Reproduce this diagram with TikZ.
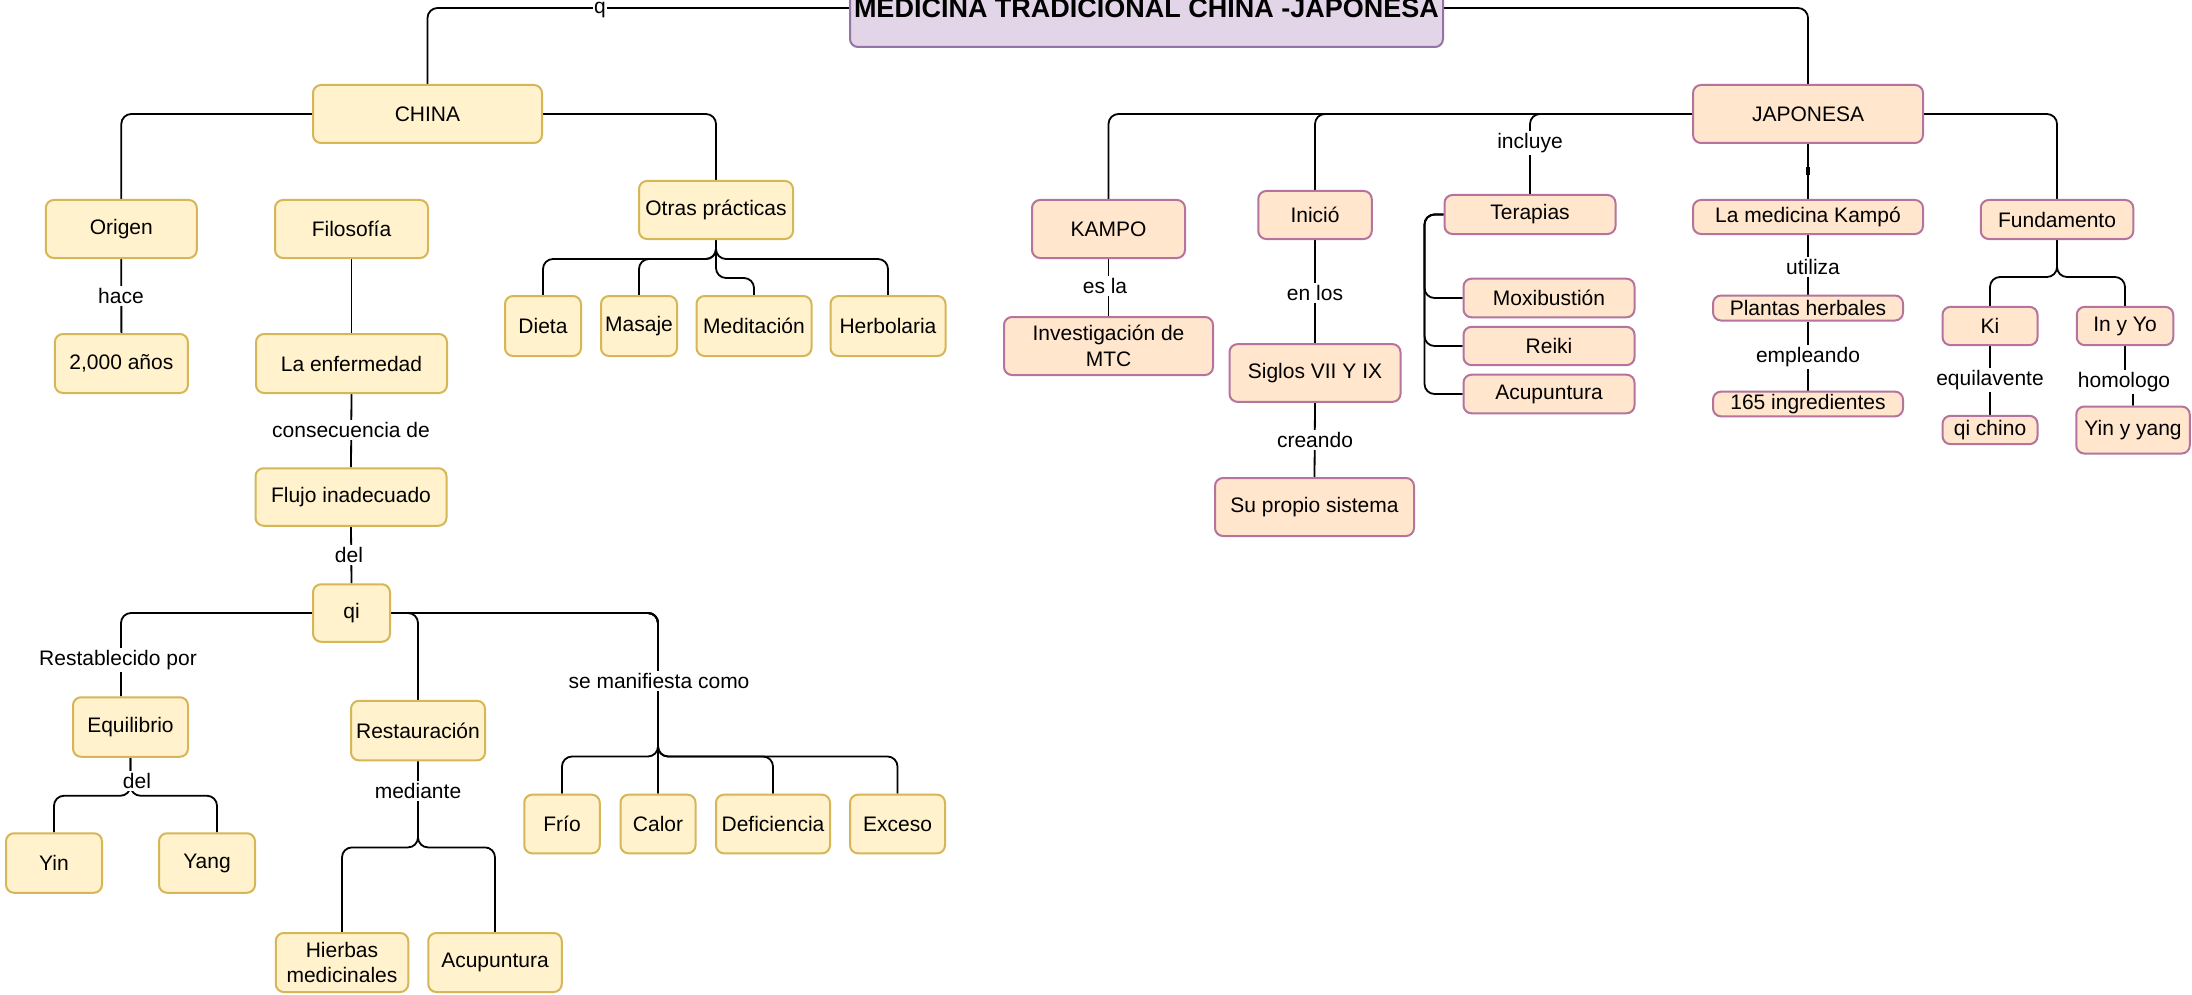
\documentclass[tikz,border=0pt]{standalone}
\usepackage{fontspec}
\setmainfont{Liberation Sans}
\definecolor{cfill}{HTML}{FFF2CC}
\definecolor{cdraw}{HTML}{D6B656}
\definecolor{jfill}{HTML}{FFE6CC}
\definecolor{jdraw}{HTML}{B5739D}
\definecolor{tfill}{HTML}{E1D5E7}
\definecolor{tdraw}{HTML}{9673A6}
\pgfdeclarelayer{back}
\pgfdeclarelayer{bg}
\pgfsetlayers{back,bg,main}
\tikzset{
  base/.style={rounded corners=8pt, line width=2pt, inner sep=0pt, align=center,
    font=\fontsize{21}{25.5}\selectfont, text=black},
  cbox/.style={base, fill=cfill, draw=cdraw},
  jbox/.style={base, fill=jfill, draw=jdraw},
  tbox/.style={base, fill=tfill, draw=tdraw, font=\bfseries\fontsize{27}{32}\selectfont},
  lbl/.style={fill=white, inner sep=2pt, font=\fontsize{21}{25}\selectfont, text=black},
  edge/.style={draw=black, line width=1.8pt, rounded corners=10pt},
  sz/.style 2 args={minimum width=#1pt, minimum height=#2pt},
}
\begin{document}
\begin{tikzpicture}[x=1pt,y=-1pt]
\useasboundingbox (0,0) rectangle (2192,995);
\begin{pgfonlayer}{back}
\fill[white] (0,0) rectangle (2192,995);
\end{pgfonlayer}

% title
\node[tbox, sz={593}{78}] (tit) at (1146.5,8) {MEDICINA TRADICIONAL CHINA -JAPONESA};

% China side
\node[cbox, sz={229}{58}] (china) at (427.5,114) {CHINA};
\node[cbox, sz={151}{58}] (origen) at (121.3,229) {Origen};
\node[cbox, sz={133}{59}] (anos) at (121.4,363.5) {2,000 años};
\node[cbox, sz={153}{58}] (filo) at (351.5,229) {Filosofía};
\node[cbox, sz={191}{59}] (enf) at (351.5,363.5) {La enfermedad};
\node[cbox, sz={154}{58}] (otras) at (716,210) {Otras prácticas};
\node[cbox, sz={76}{60}] (dieta) at (543,326) {Dieta};
\node[cbox, sz={76}{60}] (masaje) at (639,326) {Masaje};
\node[cbox, sz={115}{60}] (medit) at (754,326) {Meditación};
\node[cbox, sz={115}{60}] (herbo) at (888,326) {Herbolaria};
\node[cbox, sz={191}{57.5}] (flujo) at (351,497) {Flujo inadecuado};
\node[cbox, sz={77}{57.5}] (qi) at (351.5,613) {qi};
\node[cbox, sz={115}{59.5}] (equil) at (130.5,727) {Equilibrio};
\node[cbox, sz={96}{59.5}] (yin) at (54,863) {Yin};
\node[cbox, sz={96}{59.5}] (yang) at (207,863) {Yang};
\node[cbox, sz={134}{59.6}] (rest) at (418,730.6) {Restauración};
\node[cbox, sz={132.5}{59}] (hierbas) at (342,962.5) {Hierbas\\medicinales};
\node[cbox, sz={133.5}{59}] (acuc) at (495,962.5) {Acupuntura};
\node[cbox, sz={75.5}{58.7}] (frio) at (562,824) {Frío};
\node[cbox, sz={75}{58.7}] (calor) at (658,824) {Calor};
\node[cbox, sz={114}{58.7}] (defic) at (773,824) {Deficiencia};
\node[cbox, sz={95}{58.7}] (exceso) at (897.5,824) {Exceso};

% Japan side
\node[jbox, sz={230}{58}] (japonesa) at (1808,114) {JAPONESA};
\node[jbox, sz={153}{58}] (kampo) at (1108.5,229) {KAMPO};
\node[jbox, sz={209}{58}] (invest) at (1108.5,346) {Investigación de\\MTC};
\node[jbox, sz={113.5}{48}] (inicio) at (1315,215) {Inició};
\node[jbox, sz={171}{57.7}] (siglos) at (1315,373) {Siglos VII Y IX};
\node[jbox, sz={199}{58}] (propio) at (1314.5,507) {Su propio sistema};
\node[jbox, sz={171}{39}] (terapias) at (1530,214.5) {Terapias};
\node[jbox, sz={171}{38.6}] (moxi) at (1549,298) {Moxibustión};
\node[jbox, sz={171}{38.3}] (reiki) at (1549,346) {Reiki};
\node[jbox, sz={171}{38.6}] (acuj) at (1549,394) {Acupuntura};
\node[jbox, sz={230}{34}] (lamed) at (1808,217) {La medicina Kampó};
\node[jbox, sz={190}{25}] (plantas) at (1808,308) {Plantas herbales};
\node[jbox, sz={190}{24.7}] (ingred) at (1808,404) {165 ingredientes};
\node[jbox, sz={152.5}{39}] (fund) at (2057,219.5) {Fundamento};
\node[jbox, sz={95}{38.3}] (ki) at (1990,326) {Ki};
\node[jbox, sz={96.5}{38.3}] (inyo) at (2125,326) {In y Yo};
\node[jbox, sz={95}{28.3}] (qichino) at (1990,430) {qi chino};
\node[jbox, sz={113.5}{47}] (yinyang) at (2133,430) {Yin y yang};

\coordinate (mj) at (658,756.5);

\begin{pgfonlayer}{bg}
\draw[edge] (tit.west) -| (china.north);
\draw[edge] (tit.east) -| (japonesa.north);
\draw[edge] (china.west) -| (origen.north);
\draw[edge] (origen.south) -- (anos.north);
\draw[edge] (filo.south) -- (enf.north);
\draw[edge] (china.east) -| (otras.north);
\draw[edge] (otras.south) -- ++(0,19) -| (dieta.north);
\draw[edge] (otras.south) -- ++(0,19) -| (masaje.north);
\draw[edge] (otras.south) -- ++(0,38) -| (medit.north);
\draw[edge] (otras.south) -- ++(0,19) -| (herbo.north);
\draw[edge] (enf.south) -- (flujo.north);
\draw[edge] (flujo.south) -- (qi.north);
\draw[edge] (qi.west) -| ([xshift=-9.5pt]equil.north);
\draw[edge] (equil.south) -- ++(0,38) -| (yin.north);
\draw[edge] (equil.south) -- ++(0,38) -| ([xshift=10pt]yang.north);
\draw[edge] (qi.east) -| (rest.north);
\draw[edge] (rest.south) -- ++(0,86) -| (hierbas.north);
\draw[edge] (rest.south) -- ++(0,86) -| (acuc.north);
\draw[edge] (qi.east) -| (mj) -| (frio.north);
\draw[edge] (qi.east) -| (calor.north);
\draw[edge] (qi.east) -| (mj) -| (defic.north);
\draw[edge] (qi.east) -| (mj) -| (exceso.north);

\draw[edge] (japonesa.west) -| (kampo.north);
\draw[edge] (japonesa.west) -| (inicio.north);
\draw[edge] (japonesa.west) -| (terapias.north);
\draw[edge] (kampo.south) -- (invest.north);
\draw[edge] (inicio.south) -- (siglos.north);
\draw[edge] (siglos.south) -- (propio.north);
\draw[edge] (terapias.west) -- ++(-19,0) |- (moxi.west);
\draw[edge] (terapias.west) -- ++(-19,0) |- (reiki.west);
\draw[edge] (terapias.west) -- ++(-19,0) |- (acuj.west);
\draw[edge] (japonesa.south) -- (lamed.north);
\draw[line width=3.2pt] (japonesa.south) ++(0,23) -- ++(0,8);
\draw[edge] (lamed.south) -- (plantas.north);
\draw[edge] (plantas.south) -- (ingred.north);
\draw[edge] (japonesa.east) -| (fund.north);
\draw[edge] (fund.south) -- ++(0,37) -| (ki.north);
\draw[edge] (fund.south) -- ++(0,37) -| (inyo.north);
\draw[edge] (ki.south) -- (qichino.north);
\draw[edge] (inyo.south) -- ++(0,37) -| (yinyang.north);
\end{pgfonlayer}

% labels
\node[lbl, inner sep=1.5pt] (lq) at (600,10) {q};
\node[lbl] (lhace) at (121,296) {hace};
\node[lbl] (lcons) at (351,430) {consecuencia de};
\node[lbl] (ldel1) at (349,555) {del};
\node[lbl] (lrest) at (118,660) {Restablecido por};
\node[lbl] (ldel2) at (137,781) {del};
\node[lbl] (lmed) at (418,791) {mediante};
\node[lbl] (lman) at (659,681) {se manifiesta como};
\node[lbl] (linc) at (1530,143) {incluye};
\node[lbl] (lesla) at (1105,286) {es la};
\node[lbl] (lenlos) at (1315,293) {en los};
\node[lbl] (lcrea) at (1315,440) {creando};
\node[lbl] (luti) at (1813,267) {utiliza};
\node[lbl] (lemp) at (1808,357) {empleando};
\node[lbl] (lequ) at (1990,380) {equilavente};
\node[lbl] (lhom) at (2124,382) {homologo};
\end{tikzpicture}
\end{document}
